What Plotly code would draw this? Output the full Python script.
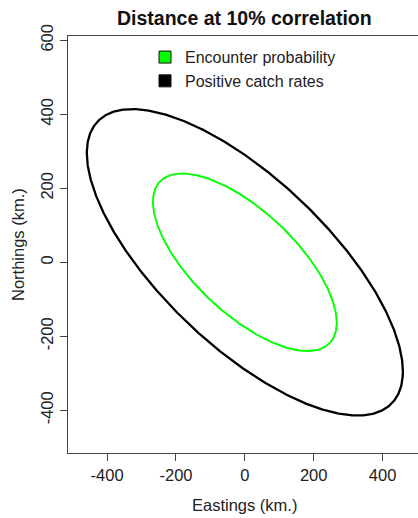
import numpy as np
import plotly.graph_objects as go

# ---- data ----
series_names = ["Encounter probability", "Positive catch rates"]
series_colors = ["#00ff00", "#000000"]
series_widths = [1.9, 2.3]
sd_east = [267, 459]      # half-extent in Eastings (km.)
sd_north = [240, 414]     # half-extent in Northings (km.)
corr = [-0.68, -0.713]    # correlation shaping the tilt
x_ticks = [-400, -200, 0, 200, 400]
y_ticks = [-400, -200, 0, 200, 400, 600]
x_tick_labels = ["-400", "-200", "0", "200", "400"]
y_tick_labels = ["-400", "-200", "0", "200", "400", "600"]
x_range = [-513.6, 502.9]
y_range = [-515.4, 611.6]

FONT = "Liberation Sans, Arial, Helvetica, sans-serif"
W, H = 418, 518
ML, MR, MT, MB = 68, 0, 36, 65

theta = np.linspace(0, 2 * np.pi, 721)

fig = go.Figure()
# ellipses (draw black first, green on top)
for i in [1, 0]:
    sx, sy, r = sd_east[i], sd_north[i], corr[i]
    ex = sx * np.cos(theta)
    ey = sy * (r * np.cos(theta) + np.sqrt(1 - r * r) * np.sin(theta))
    fig.add_trace(go.Scatter(x=ex, y=ey, mode="lines",
                             line=dict(color=series_colors[i], width=series_widths[i]),
                             showlegend=False, hoverinfo="skip"))
# legend entries (filled squares)
for i in range(2):
    fig.add_trace(go.Scatter(x=[None], y=[None], mode="markers", name=series_names[i],
                             marker=dict(symbol="square", size=12, color=series_colors[i],
                                         line=dict(color="#111111", width=1))))

axis_common = dict(showgrid=False, zeroline=False, showline=True, linecolor="#444444",
                   linewidth=1, ticks="outside", ticklen=7, tickwidth=1, tickcolor="#444444",
                   tickfont=dict(family=FONT, size=16.5, color="#222222"))

fig.update_layout(
    width=W, height=H,
    margin=dict(l=ML, r=MR, t=MT, b=MB, pad=0),
    paper_bgcolor="white", plot_bgcolor="white",
    font=dict(family=FONT, color="#222222"),
    xaxis=dict(range=x_range, tickvals=x_ticks, ticktext=x_tick_labels, mirror=True, **axis_common),
    yaxis=dict(range=y_range, tickvals=y_ticks, ticktext=y_tick_labels, tickangle=-90,
               ticklabelstandoff=0, **axis_common),
    legend=dict(x=(145 - ML) / 350, xanchor="left", y=0.99, yanchor="top",
                bgcolor="rgba(0,0,0,0)", font=dict(family=FONT, size=16, color="#222222"),
                itemwidth=30, tracegroupgap=0),
    showlegend=True,
)

fig.add_annotation(text="<b>Distance at 10% correlation</b>", xref="paper", yref="paper",
                   x=(245 - ML) / 350, y=1 + (MT - 18) / 417, xanchor="center", yanchor="middle",
                   showarrow=False, font=dict(family=FONT, size=19.5, color="#111111"))
fig.add_annotation(text="Eastings (km.)", xref="paper", yref="paper",
                   x=(245 - ML) / 350, y=-(505 - 453) / 417, xanchor="center", yanchor="middle",
                   showarrow=False, font=dict(family=FONT, size=16.5, color="#222222"))
fig.add_annotation(text="Northings (km.)", xref="paper", yref="paper",
                   x=-(ML - 18) / 350, y=(453 - 245) / 417, xanchor="center", yanchor="middle",
                   textangle=-90, showarrow=False,
                   font=dict(family=FONT, size=16.5, color="#222222"))

fig.write_html("out.html")
